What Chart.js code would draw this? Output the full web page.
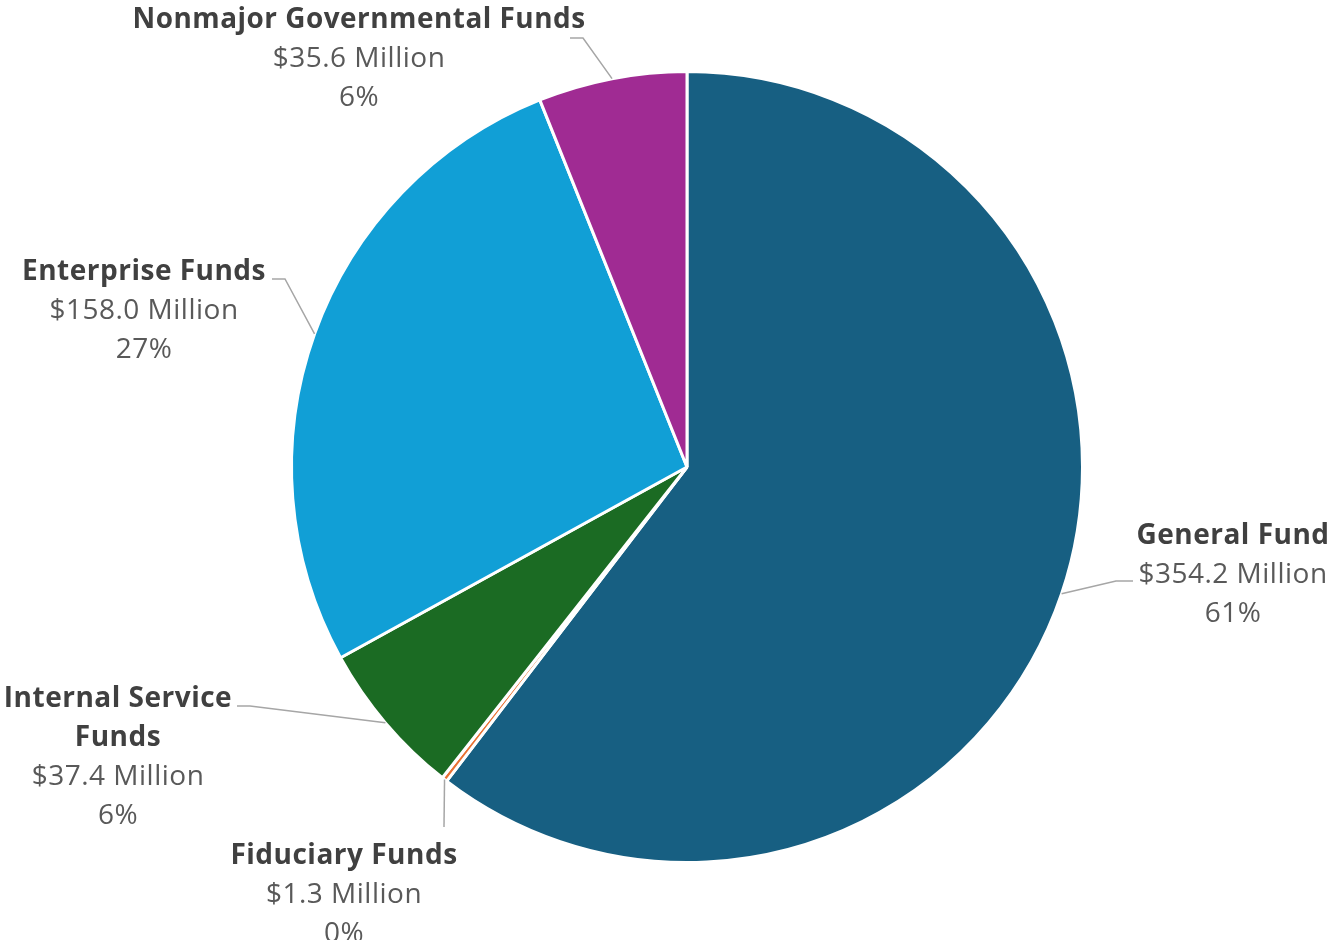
<!DOCTYPE html>
<html>
<head>
<meta charset="utf-8">
<script src="https://cdn.jsdelivr.net/npm/chart.js@4/dist/chart.umd.min.js"></script>
<style>
  html, body { margin: 0; padding: 0; background: #fff; }
  #wrap { width: 1329px; height: 940px; position: relative; }
</style>
</head>
<body>
<div id="wrap"><canvas id="fundChart"></canvas></div>
<script>
// Funds, clockwise from 12 o'clock
const categories = ["General Fund", "Fiduciary Funds", "Internal Service Funds", "Enterprise Funds", "Nonmajor Governmental Funds"];
const amounts = [354.2, 1.3, 37.4, 158.0, 35.6]; // $ Million
const percentLabels = ["61%", "0%", "6%", "27%", "6%"];
const sliceColors = ["#175F82", "#E97132", "#1B6B23", "#119FD6", "#A02B93"];

// where each label block sits (center of first text line) and its leader-line elbow
const labelLayout = [
  { x: 1233, y: 536, lines: ["General Fund"], elbow: [1116, 581], end: [1133, 581] },
  { x: 344, y: 856, lines: ["Fiduciary Funds"], elbow: [444, 827], end: null },
  { x: 118, y: 699, lines: ["Internal Service", "Funds"], elbow: [250, 706], end: [237, 706] },
  { x: 144, y: 272, lines: ["Enterprise Funds"], elbow: [285, 279], end: [272, 279] },
  { x: 359, y: 20, lines: ["Nonmajor Governmental Funds"], elbow: [583, 38], end: [570, 38], maxWidth: 453 }
];

const FONT = "'Open Sans', 'Noto Sans', sans-serif";
const LINE_H = 39;

const calloutLabels = {
  id: "calloutLabels",
  afterDatasetsDraw(chart) {
    const ctx = chart.ctx;
    const arcs = chart.getDatasetMeta(0).data;
    ctx.save();
    arcs.forEach((arc, i) => {
      const { x, y, startAngle, endAngle, outerRadius } = arc.getProps(["x", "y", "startAngle", "endAngle", "outerRadius"], true);
      const mid = (startAngle + endAngle) / 2;
      const px = x + Math.cos(mid) * outerRadius;
      const py = y + Math.sin(mid) * outerRadius;
      const lay = labelLayout[i];

      // leader line
      ctx.strokeStyle = "#A6A6A6";
      ctx.lineWidth = 1.5;
      ctx.beginPath();
      ctx.moveTo(px, py);
      ctx.lineTo(lay.elbow[0], lay.elbow[1]);
      if (lay.end) ctx.lineTo(lay.end[0], lay.end[1]);
      ctx.stroke();

      // text
      ctx.textAlign = "center";
      ctx.textBaseline = "middle";
      ctx.letterSpacing = "0.5px";
      let ty = lay.y;
      ctx.fillStyle = "#404040";
      ctx.font = "bold 28px " + FONT;
      lay.lines.forEach(t => {
        if (lay.maxWidth) ctx.fillText(t, lay.x, ty, lay.maxWidth);
        else ctx.fillText(t, lay.x, ty);
        ty += LINE_H;
      });
      ctx.fillStyle = "#595959";
      ctx.font = "28px " + FONT;
      ctx.fillText("$" + amounts[i].toFixed(1) + " Million", lay.x, ty);
      ty += LINE_H;
      ctx.fillText(percentLabels[i], lay.x, ty);
    });
    ctx.restore();
  }
};

new Chart(document.getElementById("fundChart").getContext("2d"), {
  type: "pie",
  data: {
    labels: categories,
    datasets: [{
      data: amounts,
      backgroundColor: sliceColors,
      borderColor: "#FFFFFF",
      borderWidth: 3,
      hoverOffset: 0
    }]
  },
  options: {
    responsive: true,
    maintainAspectRatio: false,
    animation: false,
    layout: { padding: { left: 290, right: 245, top: 70, bottom: 76 } },
    plugins: {
      legend: { display: false },
      tooltip: { enabled: false }
    }
  },
  plugins: [calloutLabels]
});
</script>
</body>
</html>
